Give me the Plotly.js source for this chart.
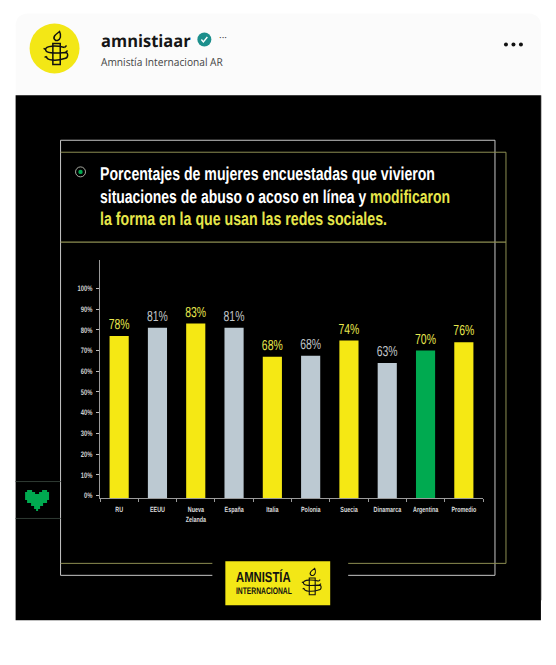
<!DOCTYPE html>
<html><head><meta charset="utf-8">
<script src="https://cdn.plot.ly/plotly-3.0.1.min.js"></script>
<style>html,body{margin:0;padding:0;background:#fff;overflow:hidden}svg text{text-rendering:geometricPrecision}</style>
</head><body><div id="chart" style="width:556px;height:665px"></div>
<script>
// ---- data ----
const categories = ['RU','EEUU','Nueva<br>Zelanda','España','Italia','Polonia','Suecia','Dinamarca','Argentina','Promedio'];
const barValues  = [77, 81, 83, 81, 67, 67.5, 74.8, 64, 70, 74];   // bar heights as drawn
const barLabels  = ['78%','81%','83%','81%','68%','68%','74%','63%','70%','76%']; // as printed
const yTickValues = [0,10,20,30,40,50,60,70,80,90,100];
const yTickLabels = ['0%','10%','20%','30%','40%','50%','60%','70%','80%','90%','100%'];
const titleLines = [
  'Porcentajes de mujeres encuestadas que vivieron',
  'situaciones de abuso o acoso en línea y <span style="color:#e6e64a">modificaron</span>',
  '<span style="color:#e6e64a">la forma en la que usan las redes sociales.</span>'
];

// ---- styles ----
const Y='#f5e814', G='#bcc9d2', V='#00aa50', LY='#e8e84e', LG='#c2c6ca';
const barColors  = [Y,G,Y,G,Y,G,Y,G,V,Y];
const labelColors= [LY,LG,LY,LG,LY,LG,LY,LG,LY,LY];
const ARIAL='"Liberation Sans",Arial,sans-serif';
const SANS='"Open Sans","Noto Sans",sans-serif';

// ---- page geometry helpers (pixels -> paper) ----
const L=99.5,R=483,T=260,B=498.5;
const px=x=>(x-L)/(R-L), py=y=>(B-y)/(B-T);
const axisFloor=-1.2;
const rect=(x0,y0,x1,y1,fill)=>({type:'rect',xref:'paper',yref:'paper',layer:'below',
  x0:px(x0),x1:px(x1),y0:py(y0),y1:py(y1),fillcolor:fill,line:{width:0}});
const line=(x0,y0,x1,y1,color,w)=>({type:'line',xref:'paper',yref:'paper',layer:'below',
  x0:px(x0),x1:px(x1),y0:py(y0),y1:py(y1),line:{color:color,width:w||1}});
const circ=(cx,cy,r,fill,lc,lw)=>({type:'circle',xref:'paper',yref:'paper',layer:'below',
  x0:px(cx-r),x1:px(cx+r),y0:py(cy-r),y1:py(cy+r),fillcolor:fill,line:{color:lc||fill,width:lw||0}});
const pathOf=(d,cx,cy,s)=>{let i=0;return d.replace(/-?\d+(\.\d+)?/g,n=>{
  const v=parseFloat(n);const r=(i++%2===0)?px(cx+v*s):py(cy+v*s);return r.toFixed(5);});};
const shapePath=(d,cx,cy,s,fill,lc,lw)=>({type:'path',xref:'paper',yref:'paper',layer:'below',
  path:pathOf(d,cx,cy,s),fillcolor:fill,line:{color:lc||fill,width:lw||0}});
const candle=(cx,cy,s,w)=>[
  'M-1,-8 C-5,-11 -1,-14 3,-17 C5,-13 4,-9 1,-8 Z',
  'M-3.7,-5 L3.7,-5 L3.7,16 L-3.7,16 Z',
  'M8,-1 C0,-3 -11,-3 -11,1 C-11,5 -3,5 9,4 C12,4 12,10 8,10 C0,13 -11,12 -10,8',
  'M8,-1 L10,-3 M9,4 L11,2 M-11,1 L-13,0 M-10,8 L-12,9'
].map(d=>shapePath(d,cx,cy,s,'rgba(0,0,0,0)','#111',w));

const FR='#c6c6c6', FY='#8d8e52';
const shapes=[
  shapePath('M15,105 L15,25 C15,18 20,13 27,13 L529,13 C536,13 541,18 541,25 L541,105 Z',0,0,1,'#fbfbfb'),
  rect(15,95,541,621,'#000000'),
  line(541.5,95,541.5,601,'#777',0.5),
  // frames
  line(60,140,495,140,FR), line(60,140,60,576,FR), line(495,140,495,576,FR),
  line(60,576,212,576,FR), line(348,576,495,576,FR),
  line(60,152,506,152,FY), line(506,152,506,564,FY),
  line(60,242,506,242,FY,1.2),
  line(60,564,212,564,FY), line(348,564,506,564,FY),
  line(15,482,60,482,'#2f3a33'), line(15,519,60,519,'#2f3a33'),
  // bullet
  circ(80,171.7,5,'rgba(0,0,0,0)','#cfd4c8',0.8), circ(80,171.7,2.2,V),
  // heart
  shapePath('M-10,-10 L-5,-10 L-5,-8 L-2,-8 L-2,-6 L2,-6 L2,-8 L5,-8 L5,-10 L10,-10 L10,-8 L12,-8 L12,0 L10,0 L10,3 L6,3 L6,6 L3,6 L3,9 L1,9 L1,11 L-1,11 L-1,9 L-3,9 L-3,6 L-6,6 L-6,3 L-10,3 L-10,0 L-12,0 L-12,-8 L-10,-8 Z',36.5,500.5,1,V),
  // avatar
  circ(54,48,25,'#f3e716'),
  // verified badge
  circ(204,39,7,'#1c8f8c'),
  shapePath('M-3,0 L-1,2.5 L3,-2.5',204,39,1,'rgba(0,0,0,0)','#ffffff',1.4),
  // dots
  circ(506,44,2,'#111'), circ(513.5,44,2,'#111'), circ(521,44,2,'#111'),
  // logo box
  rect(225,562,330,606,'#f3e716')
].concat(candle(56,48,1,1.5), candle(312,582.6,0.8,1.1));

const note=(text,x,y,size,color,family,anchor,weight)=>({text:text,xref:'paper',yref:'paper',x:px(x),y:py(y),
  showarrow:false,xanchor:anchor||'left',yanchor:'middle',align:anchor||'left',borderpad:0,
  font:{size:size,color:color,family:family,weight:weight||400}});

// annotation texts and the width (px) each spans in the picture
const noteWidths=[90,122,null,335,350,287,55,56];
const annotations=[
  note('amnistiaar',100,40,17,'#161616',SANS,'left',700),
  note('Amnistía Internacional AR',100,62,11,'#444',SANS),
  note('···',223,37,10,'#444',SANS,'center'),
  note(titleLines[0],98.5,173,18.5,'#ffffff',ARIAL,'left',700),
  note(titleLines[1],98.5,196,18.5,'#ffffff',ARIAL,'left',700),
  note(titleLines[2],98.5,218,18.5,'#e6e64a',ARIAL,'left',700),
  note('AMNISTÍA',235,578,14.5,'#111',ARIAL,'left',700),
  note('INTERNACIONAL',235,592,9.5,'#111',ARIAL,'left',700)
];

const trace={type:'bar',x:categories,y:barValues.map(v=>v-axisFloor),base:axisFloor,width:0.5,
  marker:{color:barColors,line:{width:0}},
  text:barLabels,textposition:'outside',cliponaxis:false,constraintext:'none',
  textfont:{family:ARIAL,size:14.5,color:labelColors},hoverinfo:'skip'};

const layout={width:556,height:665,showlegend:false,paper_bgcolor:'#ffffff',plot_bgcolor:'rgba(0,0,0,0)',
  margin:{l:L,r:556-R,t:T,b:665-B,pad:0},
  shapes:shapes,annotations:annotations,bargap:0.5,
  xaxis:{type:'category',tickson:'boundaries',ticks:'outside',ticklen:3,tickcolor:'#9a9a9a',tickwidth:1,
    showline:true,linecolor:'#9a9a9a',linewidth:1,showgrid:false,zeroline:false,tickangle:0,ticklabelstandoff:4,
    tickfont:{family:ARIAL,size:7.5,color:'#dcdcdc',weight:700},automargin:false,fixedrange:true},
  yaxis:{range:[axisFloor,113.7],tickmode:'array',tickvals:yTickValues,ticktext:yTickLabels,
    ticks:'outside',ticklen:3,tickcolor:'#bdbdbd',tickwidth:1,showline:true,linecolor:'#9a9a9a',linewidth:1,ticklabelstandoff:2,
    showgrid:false,zeroline:false,tickfont:{family:ARIAL,size:8,color:'#d0d0d0',weight:700},automargin:false,fixedrange:true}
};

// Condensed look: no condensed font is installed, so squeeze real text horizontally.
function squeeze(el,k,origin){
  const b=el.getBBox();
  const ox=origin==='left'?b.x:origin==='right'?b.x+b.width:b.x+b.width/2;
  const prev=el.getAttribute('transform')||'';
  el.setAttribute('transform',prev+` translate(${ox},0) scale(${k},1) translate(${-ox},0)`);
}
Plotly.newPlot('chart',[trace],layout,{displayModeBar:false,staticPlot:true}).then(gd=>{
  gd.querySelectorAll('.annotation-text').forEach((el,i)=>{
    const w=noteWidths[i]; if(w) squeeze(el,w/el.getBBox().width,'left');
  });
  gd.querySelectorAll('.bartext').forEach(el=>squeeze(el,0.72,'center'));
  gd.querySelectorAll('.xtick text').forEach(el=>squeeze(el,0.72,'center'));
  gd.querySelectorAll('.ytick text').forEach(el=>squeeze(el,0.73,'right'));
});
</script></body></html>
